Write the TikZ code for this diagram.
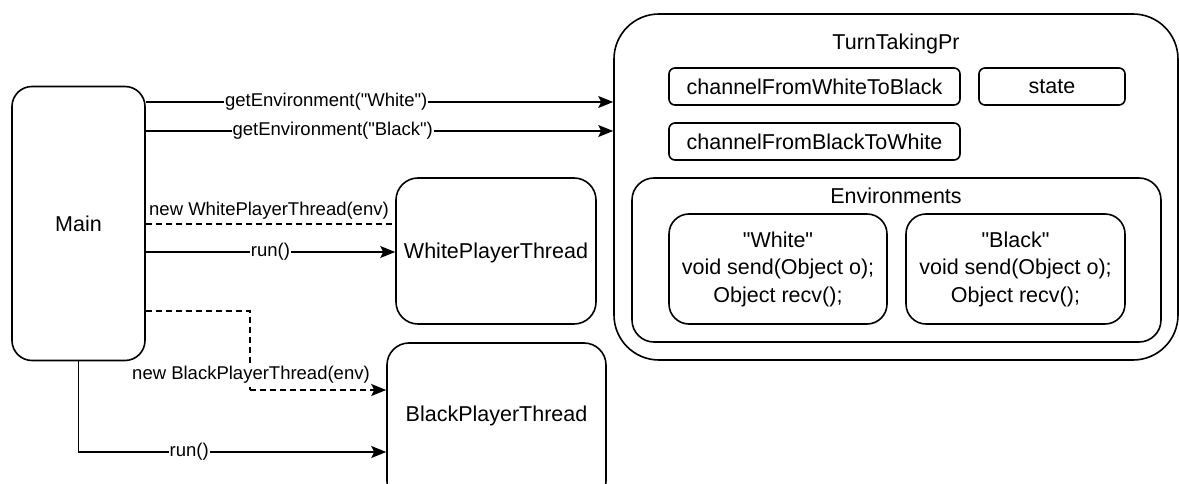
\documentclass[tikz,border=0pt]{standalone}
\usepackage{fontspec}
\newfontfamily\arial{Liberation Sans}
\usetikzlibrary{arrows.meta}
\begin{document}
\begin{tikzpicture}[x=1pt,y=-1pt,
  lw/.style={line width=1.6pt},
  bigtext/.style={font=\arial\fontsize{21.5}{27.5}\selectfont},
  box/.style={lw,draw,rounded corners=#1,inner sep=0pt,align=center,bigtext},
  box/.default=20pt,
  lbl/.style={fill=white,inner sep=1pt,font=\arial\fontsize{18.5}{22}\selectfont},
  conn/.style={lw,-{Stealth[length=15pt,width=12pt,inset=3pt]}},
  dconn/.style={lw,dash pattern=on 6pt off 4pt}]
\useasboundingbox (0,0) rectangle (1179,484);
\clip (0,0) rectangle (1179,484);

% main program
\node[box=20pt,minimum width=133pt,minimum height=274pt] (main) at (78.5,223.5) {Main};

% shared turn-taking protocol
\node[box=45pt,minimum width=564pt,minimum height=346pt] (ttp) at (896,187) {};
\node[bigtext] (ttptitle) at (896,44) {TurnTakingPr};
\node[box=6pt,minimum width=291pt,minimum height=37pt] (cwb) at (814.5,86.5) {channelFromWhiteToBlack};
\node[box=6pt,minimum width=146pt,minimum height=37pt] (state) at (1052,86.5) {state};
\node[box=6pt,minimum width=291pt,minimum height=37pt] (cbw) at (814.5,141.5) {channelFromBlackToWhite};

% environments
\node[box=22pt,minimum width=529pt,minimum height=164pt] (envs) at (896.5,260) {};
\node[bigtext] (envtitle) at (896,196) {Environments};
\node[box=20pt,minimum width=218pt,minimum height=110pt] (white) at (778,269)
  {"White"\\void send(Object o);\\Object recv();};
\node[box=20pt,minimum width=219pt,minimum height=110pt] (black) at (1015.5,269)
  {"Black"\\void send(Object o);\\Object recv();};

% player threads
\node[box=22pt,minimum width=200pt,minimum height=146pt] (wpt) at (496,251) {};
\node[bigtext] (wptlabel) at (496,253) {WhitePlayerThread};
\node[box=22pt,minimum width=219pt,minimum height=160pt] (bpt) at (496.5,423) {};
\node[bigtext] (bptlabel) at (496.5,416) {BlackPlayerThread};

% connectors
\draw[conn] (main.east |- 0,102) -- node[lbl,pos=0.386]{getEnvironment("White")} (ttp.west |- 0,102);
\draw[conn] (main.east |- 0,131) -- node[lbl,pos=0.40]{getEnvironment("Black")} (ttp.west |- 0,131);
\draw[dconn] (main.east |- 0,224) -- (wpt.west |- 0,224);
\node[lbl,anchor=south west,inner sep=2pt] (newwhite) at (147,222) {new WhitePlayerThread(env)};
\draw[conn] (main.east |- 0,252) -- node[lbl]{run()} (wpt.west |- 0,252);

\coordinate (bend1) at (250,311);
\coordinate (bend2) at (250,390);
\draw[dconn] (main.east |- bend1) -- (bend1) -- (bend2);
\draw[conn,dash pattern=on 6pt off 4pt] (bend2) -- (bpt.west |- bend2);
\node[lbl] (newblack) at (251,375) {new BlackPlayerThread(env)};

\coordinate (bend3) at (78.5,452);
\draw[conn] (main.south) -- (bend3) -- node[lbl,pos=0.36]{run()} (bpt.west |- bend3);
\end{tikzpicture}
\end{document}
